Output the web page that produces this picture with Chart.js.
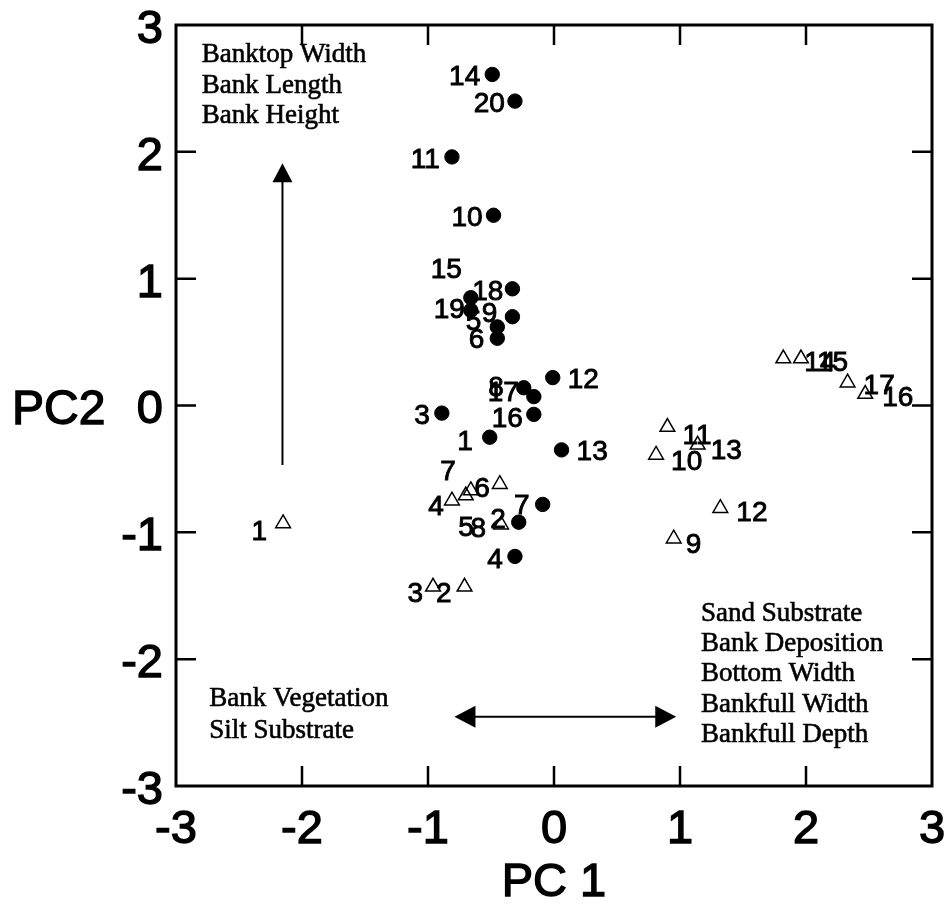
<!DOCTYPE html>
<html>
<head>
<meta charset="utf-8">
<script src="https://cdn.jsdelivr.net/npm/chart.js@4/dist/chart.umd.min.js"></script>
<style>
  html, body { margin: 0; padding: 0; background: #fff; }
  canvas { display: block; }
</style>
</head>
<body>
<canvas id="pca" width="951" height="905"></canvas>
<script>
// Site scores on the first two principal components.
// Filled circles: sites 1-20; open triangles: sites 1-17.
const circleSites = ['1','2','3','4','5','6','7','8','9','10','11','12','13','14','15','16','17','18','19','20'];
const circlePC1 = [-0.51, -0.28, -0.89, -0.31, -0.45, -0.45, -0.09, -0.24, -0.33, -0.48,
                   -0.81, -0.01, 0.06, -0.49, -0.66, -0.16, -0.16, -0.33, -0.66, -0.31];
const circlePC2 = [-0.25, -0.92, -0.06, -1.19, 0.62, 0.53, -0.78, 0.14, 0.70, 1.50,
                   1.96, 0.22, -0.35, 2.61, 0.85, -0.07, 0.07, 0.92, 0.75, 2.40];

const triangleSites = ['1','2','3','4','5','6','7','8','9','10','11','12','13','14','15','16','17'];
const trianglePC1 = [-2.15, -0.71, -0.96, -0.81, -0.66, -0.43, -0.70, -0.42, 0.95, 0.81,
                     0.90, 1.32, 1.14, 1.82, 1.96, 2.47, 2.33];
const trianglePC2 = [-0.93, -1.43, -1.43, -0.75, -0.67, -0.62, -0.71, -0.94, -1.05, -0.39,
                     -0.17, -0.81, -0.31, 0.37, 0.37, 0.09, 0.18];

// Axis ticks and titles
const tickValues = [-3, -2, -1, 0, 1, 2, 3];
const tickLabels = ['-3', '-2', '-1', '0', '1', '2', '3'];
const xTitle = 'PC 1';
const yTitle = 'PC2';

// Variables loading on each direction
const loadingsUp = ['Banktop Width', 'Bank Length', 'Bank Height'];
const loadingsLeft = ['Bank Vegetation', 'Silt Substrate'];
const loadingsRight = ['Sand Substrate', 'Bank Deposition', 'Bottom Width', 'Bankfull Width', 'Bankfull Depth'];

// Site label placement next to each marker: [dx px, dy px, text alignment]
const circleLabelPlace = [
  [-17, 5, 'right'], [-13, -2, 'right'], [-12, 3, 'right'], [-12, 4, 'right'], [-16, -5, 'right'],
  [-13, 2, 'right'], [-13, 2, 'right'], [-20, 1, 'right'], [-15, -2, 'right'], [-11, 3, 'right'],
  [-12, 3, 'right'], [15, 3, 'left'], [15, 2, 'left'], [-12, 3, 'right'], [-9, -27, 'right'],
  [-11, 5, 'right'], [-15, -3, 'right'], [-9, 3, 'right'], [-6, 0, 'right'], [-10, 3, 'right']
];
const triangleLabelPlace = [
  [-16, 9, 'right'], [-13, 7, 'right'], [-10, 7, 'right'], [-8, 7, 'right'], [3, 38, 'right'],
  [-10, 5, 'right'], [-10, -23, 'right'], [-15, 5, 'right'], [12, 7, 'left'], [15, 7, 'left'],
  [15, 9, 'left'], [16, 5, 'left'], [13, 6, 'left'], [21, 5, 'left'], [16, 5, 'left'],
  [17, 4, 'left'], [16, 4, 'left']
];

// Loading arrows and text blocks, in axis units
const arrowUp = { x: -2.155, from: -0.47, to: 1.91 };
const arrowAcross = { y: -2.454, from: -0.79, to: 0.97 };
const textUp = { x: -2.796, y: 2.708, step: 30.5 };
const textLeft = { x: -2.736, y: -2.373, step: 32 };
const textRight = { x: 1.166, y: -1.696, step: 30.4 };

const SANS = '"Liberation Sans", Arial, Helvetica, sans-serif';
const SERIF = '"Liberation Serif", "Times New Roman", serif';
const AXIS_INK = 1.4;

function pts(xs, ys) { return xs.map((v, i) => ({ x: v, y: ys[i] })); }

function arrowHead(ctx, tx, ty, dx, dy, len, half) {
  const bx = tx - dx * len, by = ty - dy * len;
  ctx.beginPath();
  ctx.moveTo(tx, ty);
  ctx.lineTo(bx - dy * half, by + dx * half);
  ctx.lineTo(bx + dy * half, by - dx * half);
  ctx.closePath();
  ctx.fill();
}

// text with a thin outline for a heavier stroke
function inkText(ctx, s, x, y, w) {
  ctx.fillText(s, x, y);
  if (w > 0) { ctx.lineWidth = w; ctx.strokeText(s, x, y); }
}

const framePlugin = {
  id: 'frame',
  beforeDatasetsDraw(chart) {
    const { ctx, chartArea: a, scales: { x, y } } = chart;
    ctx.save();
    ctx.strokeStyle = '#000';
    ctx.lineWidth = 3;
    ctx.strokeRect(a.left, a.top, a.right - a.left, a.bottom - a.top);
    ctx.lineWidth = 2.5;
    const L = 20;
    ctx.beginPath();
    x.ticks.forEach(t => {
      if (t.value <= x.min || t.value >= x.max) return;
      const p = x.getPixelForValue(t.value);
      ctx.moveTo(p, a.bottom); ctx.lineTo(p, a.bottom - L);
      ctx.moveTo(p, a.top); ctx.lineTo(p, a.top + L);
    });
    y.ticks.forEach(t => {
      if (t.value <= y.min || t.value >= y.max) return;
      const p = y.getPixelForValue(t.value);
      ctx.moveTo(a.left, p); ctx.lineTo(a.left + L, p);
      ctx.moveTo(a.right, p); ctx.lineTo(a.right - L, p);
    });
    ctx.stroke();
    ctx.restore();
  },
  afterDatasetsDraw(chart) {
    const { ctx, scales: { x, y } } = chart;
    ctx.save();
    ctx.fillStyle = '#000';
    ctx.strokeStyle = '#000';

    // site numbers
    ctx.font = '28px ' + SANS;
    ctx.textBaseline = 'middle';
    const labelSet = (idx, names, place) => {
      chart.getDatasetMeta(idx).data.forEach((el, i) => {
        const [dx, dy, align] = place[i];
        ctx.textAlign = align;
        inkText(ctx, names[i], el.x + dx, el.y + dy, 0.9);
      });
    };
    labelSet(0, circleSites, circleLabelPlace);
    labelSet(1, triangleSites, triangleLabelPlace);

    // PC2 arrow
    ctx.lineWidth = 2;
    const ux = x.getPixelForValue(arrowUp.x);
    const uy0 = y.getPixelForValue(arrowUp.from);
    const uy1 = y.getPixelForValue(arrowUp.to);
    ctx.beginPath(); ctx.moveTo(ux, uy0); ctx.lineTo(ux, uy1 + 12); ctx.stroke();
    arrowHead(ctx, ux, uy1, 0, -1, 19, 10);

    // PC1 double arrow
    const ay = y.getPixelForValue(arrowAcross.y);
    const ax0 = x.getPixelForValue(arrowAcross.from);
    const ax1 = x.getPixelForValue(arrowAcross.to);
    ctx.beginPath(); ctx.moveTo(ax0 + 12, ay); ctx.lineTo(ax1 - 12, ay); ctx.stroke();
    arrowHead(ctx, ax0, ay, -1, 0, 21, 11);
    arrowHead(ctx, ax1, ay, 1, 0, 21, 11);

    // loading variable names
    ctx.font = '27px ' + SERIF;
    ctx.textAlign = 'left';
    ctx.textBaseline = 'alphabetic';
    const block = (lines, pos) => {
      const px = x.getPixelForValue(pos.x);
      const py = y.getPixelForValue(pos.y);
      lines.forEach((s, i) => inkText(ctx, s, px, py + i * pos.step, 0.6));
    };
    block(loadingsUp, textUp);
    block(loadingsLeft, textLeft);
    block(loadingsRight, textRight);

    // axis titles (the vertical one is set horizontally)
    ctx.textBaseline = 'middle';
    ctx.font = '48px ' + SANS;
    ctx.textAlign = 'left';
    inkText(ctx, yTitle, 12, y.getPixelForValue(0) + 5, AXIS_INK);
    ctx.font = '47px ' + SANS;
    ctx.textAlign = 'center';
    inkText(ctx, xTitle, (x.left + x.right) / 2, x.bottom - 22, AXIS_INK);
    ctx.restore();
  },
  // outline the library's tick labels so they carry the same weight
  afterDraw(chart) {
    const { ctx, scales: { x, y } } = chart;
    ctx.save();
    ctx.strokeStyle = '#000';
    ctx.lineWidth = AXIS_INK;
    [x, y].forEach(s => {
      (s._labelItems || []).forEach(item => {
        const o = item.options;
        if (!item.font || !o || !o.translation) return;
        ctx.font = item.font.string;
        ctx.textAlign = o.textAlign;
        ctx.textBaseline = o.textBaseline;
        ctx.save();
        ctx.translate(o.translation[0], o.translation[1]);
        ctx.rotate(o.rotation || 0);
        const lbl = item.label;
        ctx.strokeText(Array.isArray(lbl) ? lbl[0] : lbl, 0, item.textOffset || 0);
        ctx.restore();
      });
    });
    ctx.restore();
  }
};

new Chart(document.getElementById('pca'), {
  type: 'scatter',
  data: {
    datasets: [
      {
        label: 'circles',
        data: pts(circlePC1, circlePC2),
        pointStyle: 'circle',
        pointRadius: 7.2,
        pointBackgroundColor: '#000',
        pointBorderColor: '#000',
        pointBorderWidth: 1
      },
      {
        label: 'triangles',
        data: pts(trianglePC1, trianglePC2),
        pointStyle: 'triangle',
        pointRadius: 8.5,
        pointBackgroundColor: 'rgba(0,0,0,0)',
        pointBorderColor: '#000',
        pointBorderWidth: 1.5
      }
    ]
  },
  options: {
    responsive: false,
    animation: false,
    devicePixelRatio: 1,
    layout: { padding: { top: 25, right: 19, left: 0, bottom: 0 } },
    plugins: { legend: { display: false }, tooltip: { enabled: false } },
    scales: {
      x: {
        type: 'linear',
        min: -3, max: 3,
        grid: { display: false, drawTicks: false },
        border: { display: false },
        afterBuildTicks: s => { s.ticks = tickValues.map(v => ({ value: v })); },
        afterFit: s => { s.height = 119; s.paddingLeft = 0; s.paddingRight = 0; },
        ticks: {
          color: '#000',
          padding: 21,
          font: { family: SANS, size: 47, lineHeight: 1 },
          callback: v => tickLabels[tickValues.indexOf(v)]
        }
      },
      y: {
        type: 'linear',
        min: -3, max: 3,
        grid: { display: false, drawTicks: false },
        border: { display: false },
        afterBuildTicks: s => { s.ticks = tickValues.map(v => ({ value: v })); },
        afterFit: s => { s.width = 176; s.paddingTop = 0; s.paddingBottom = 0; },
        ticks: {
          color: '#000',
          padding: 13,
          labelOffset: 5,
          font: { family: SANS, size: 47, lineHeight: 1 },
          callback: v => tickLabels[tickValues.indexOf(v)]
        }
      }
    }
  },
  plugins: [framePlugin]
});
</script>
</body>
</html>
